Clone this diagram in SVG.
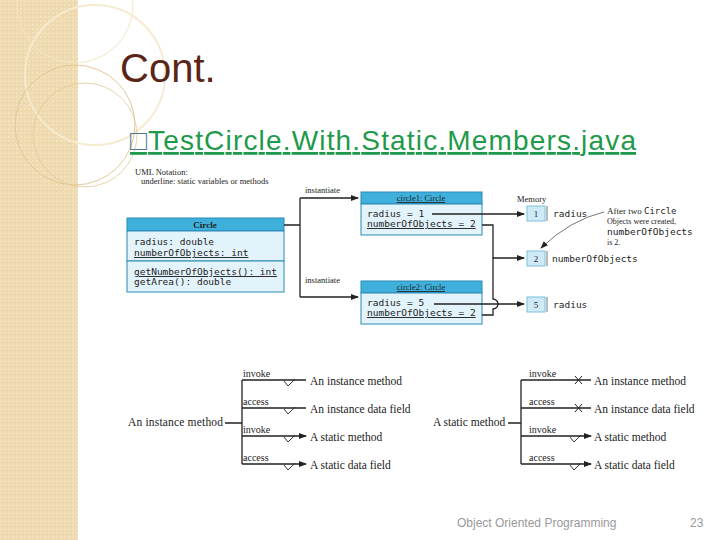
<svg xmlns="http://www.w3.org/2000/svg" width="720" height="540" viewBox="0 0 720 540">
<style>
.s{font-family:"Liberation Serif",serif;fill:#222}
.m{font-family:"DejaVu Sans Mono",monospace;fill:#222;font-size:9.5px}
.ln{stroke:#222;stroke-width:1.3;fill:none}
.hd{fill:#3fb0dc;stroke:#2a8ab5}
.bd{fill:#e2f3fb;stroke:#2a8ab5}
.mem{fill:#cfeaf7;stroke:#7cbfdc}
</style>
<defs>
<marker id="a" markerWidth="8" markerHeight="6" refX="7" refY="3" orient="auto" markerUnits="userSpaceOnUse"><path d="M0,0L8,3L0,6z" fill="#222"/></marker>
<pattern id="p" width="4" height="4" patternUnits="userSpaceOnUse"><rect width="4" height="4" fill="#efd9ae"/><rect width="2" height="2" fill="#f3e2bf"/></pattern>
</defs>
<rect width="720" height="540" fill="#fff"/>
<g id="sidebar">
<rect width="78" height="540" fill="url(#p)"/>
<circle cx="75" cy="5" r="58" fill="none" stroke="#f4e5c6" stroke-width="1"/>
<circle cx="95" cy="75" r="70" fill="none" stroke="#f6eacf" stroke-width="1.8"/>
<circle cx="75" cy="125" r="60" fill="none" stroke="#e2c898" stroke-width="1"/>
<circle cx="85" cy="135" r="52" fill="none" stroke="#e2c898" stroke-width="0.8"/>
</g>
<text x="120" y="82" font-family="Liberation Sans,sans-serif" font-size="40" fill="#5a2417">Cont.</text>
<text x="130" y="150" font-family="Liberation Sans,sans-serif" font-size="28" fill="#1f9a4c" text-decoration="underline" textLength="506" lengthAdjust="spacing"><tspan fill="#4a7a95">□</tspan>TestCircle.With.Static.Members.java</text>
<text class="s" x="135" y="175" font-size="8.5">UML Notation:</text>
<text class="s" x="141" y="184" font-size="8.5">underline: static variables or methods</text>
<g id="circle-class">
<rect class="hd" x="127" y="218" width="157" height="13"/>
<rect class="bd" x="127" y="231" width="157" height="30"/>
<rect class="bd" x="127" y="261" width="157" height="31"/>
<text class="s" x="205" y="228" font-size="9" text-anchor="middle" font-weight="bold">Circle</text>
<text class="m" x="134" y="245">radius: double</text>
<text class="m" x="134" y="256" text-decoration="underline">numberOfObjects: int</text>
<text class="m" x="134" y="275" text-decoration="underline">getNumberOfObjects(): int</text>
<text class="m" x="134" y="285">getArea(): double</text>
</g>
<g id="circle1">
<rect class="hd" x="361" y="192" width="121" height="12"/>
<rect class="bd" x="361" y="204" width="121" height="31"/>
<text class="s" x="421" y="201" font-size="8.5" text-anchor="middle" text-decoration="underline">circle1: Circle</text>
<text class="m" x="367" y="217">radius = 1</text>
<text class="m" x="367" y="227" text-decoration="underline">numberOfObjects = 2</text>
</g>
<g id="circle2">
<rect class="hd" x="361" y="281" width="121" height="12"/>
<rect class="bd" x="361" y="293" width="121" height="31"/>
<text class="s" x="421" y="290" font-size="8.5" text-anchor="middle" text-decoration="underline">circle2: Circle</text>
<text class="m" x="367" y="306">radius = 5</text>
<text class="m" x="367" y="316" text-decoration="underline">numberOfObjects = 2</text>
</g>
<g id="memory">
<text class="s" x="517" y="202" font-size="8.5">Memory</text>
<rect class="mem" x="527" y="206" width="18" height="15"/>
<rect class="mem" x="527" y="251" width="18" height="15"/>
<rect class="mem" x="527" y="297" width="18" height="15"/>
<text class="s" x="536" y="217" font-size="9" text-anchor="middle">1</text>
<text class="s" x="536" y="262" font-size="9" text-anchor="middle">2</text>
<text class="s" x="536" y="308" font-size="9" text-anchor="middle">5</text>
<path d="M547,206v15M547,251v15M547,297v15" stroke="#777"/>
<text class="m" x="553" y="217">radius</text>
<text class="m" x="552" y="262">numberOfObjects</text>
<text class="m" x="553" y="308">radius</text>
</g>
<g id="note">
<text class="s" x="607" y="214" font-size="9">After two <tspan font-family="DejaVu Sans Mono,monospace" font-size="9">Circle</tspan></text>
<text class="s" x="607" y="224" font-size="8">Objects were created,</text>
<text class="m" x="607" y="235" font-size="9">numberOfObjects</text>
<text class="s" x="607" y="245" font-size="8">is 2.</text>
</g>
<g id="connectors">
<path class="ln" d="M284,225H300M300,198V297M300,198H358" marker-end="url(#a)"/>
<path class="ln" d="M300,297H358" marker-end="url(#a)"/>
<text class="s" x="305" y="193" font-size="8.5">instantiate</text>
<text class="s" x="305" y="283" font-size="8.5">instantiate</text>
<path class="ln" d="M432,214H524" marker-end="url(#a)"/>
<path class="ln" d="M482,225H493V258H524" marker-end="url(#a)"/>
<path class="ln" d="M482,315H493V309a5,5 0 0 0 0,-10V258"/>
<path class="ln" d="M434,304H524" marker-end="url(#a)"/>
<path d="M604,212Q570,220 541,248" fill="none" stroke="#666" stroke-width="0.9" marker-end="url(#a)"/>
<path class="ln" d="M225,423H242M242,380V464" stroke-width="1"/>
<path class="ln" d="M242,380H306M242,436H306" stroke-width="1.8" marker-end="url(#a)"/>
<path class="ln" d="M242,408H306M242,464H306" stroke-width="1" marker-end="url(#a)"/>
<path d="M284,381l4,5l7,-7M284,409l4,5l7,-7M284,437l4,5l7,-7M284,465l4,5l7,-7" fill="none" stroke="#222" stroke-width="0.9"/>
<path class="ln" d="M508,423H521M521,380V464" stroke-width="1"/>
<path class="ln" d="M521,380H591M521,436H591" stroke-width="1.8" marker-end="url(#a)"/>
<path class="ln" d="M521,408H591M521,464H591" stroke-width="1" marker-end="url(#a)"/>
<path d="M575,376l7,8M582,376l-7,8M575,404l7,8M582,404l-7,8" stroke="#222" stroke-width="1"/>
<path d="M570,437l4,5l7,-7M570,465l4,5l7,-7" fill="none" stroke="#222" stroke-width="0.9"/>
</g>
<g id="labels">
<text class="s" x="128" y="426" font-size="11.5" textLength="95">An instance method</text>
<text class="s" x="243" y="377" font-size="10">invoke</text>
<text class="s" x="243" y="405" font-size="10">access</text>
<text class="s" x="243" y="433" font-size="10">invoke</text>
<text class="s" x="243" y="461" font-size="10">access</text>
<text class="s" x="310" y="385" font-size="11.5">An instance method</text>
<text class="s" x="310" y="413" font-size="11.5">An instance data field</text>
<text class="s" x="310" y="441" font-size="11.5">A static method</text>
<text class="s" x="310" y="469" font-size="11.5">A static data field</text>
<text class="s" x="433" y="426" font-size="11.5">A static method</text>
<text class="s" x="529" y="377" font-size="10">invoke</text>
<text class="s" x="529" y="405" font-size="10">access</text>
<text class="s" x="529" y="433" font-size="10">invoke</text>
<text class="s" x="529" y="461" font-size="10">access</text>
<text class="s" x="594" y="385" font-size="11.5">An instance method</text>
<text class="s" x="594" y="413" font-size="11.5">An instance data field</text>
<text class="s" x="594" y="441" font-size="11.5">A static method</text>
<text class="s" x="594" y="469" font-size="11.5">A static data field</text>
</g>
<text x="457" y="527" font-family="Liberation Sans,sans-serif" font-size="12" fill="#999">Object Oriented Programming</text>
<text x="690" y="527" font-family="Liberation Sans,sans-serif" font-size="12" fill="#999">23</text>
</svg>
